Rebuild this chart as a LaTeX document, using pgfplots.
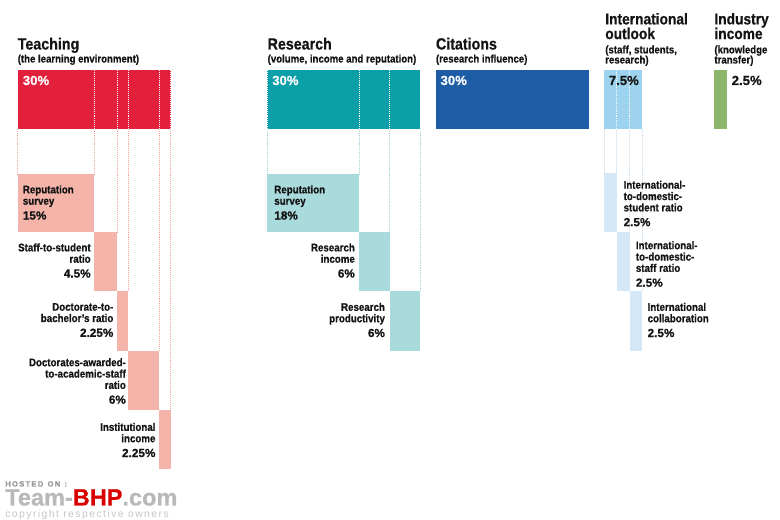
\documentclass[border=0pt]{standalone}
\usepackage{pgfplots}
\pgfplotsset{compat=1.18}
\usepackage{fontspec}
\setmainfont{Liberation Sans}[FakeStretch=0.88, BoldFeatures={FakeBold=0.6}]
\newfontfamily\wide{Liberation Sans}[BoldFeatures={FakeBold=0.6}]
\newfontfamily\wm{Liberation Sans}[LetterSpace=14]
\definecolor{tred}{HTML}{E2203C}
\definecolor{tpink}{HTML}{F4B4AA}
\definecolor{tline}{HTML}{F2A79E}
\definecolor{rteal}{HTML}{0BA0A8}
\definecolor{rlight}{HTML}{AADBDC}
\definecolor{rline}{HTML}{9FD3D6}
\definecolor{cblue}{HTML}{1D5DA6}
\definecolor{iblue}{HTML}{9DD3EE}
\definecolor{ilight}{HTML}{D5E8F7}
\definecolor{iline}{HTML}{C5DDEE}
\definecolor{igreen}{HTML}{8CB66A}
\definecolor{ink}{HTML}{141414}
% rectangle: x-from x-to (cumulative %), y-top y-bottom (px rows), colour
\newcommand{\rect}[5]{\addplot[draw=none,fill=#5] coordinates {(#1,#3) (#2,#3) (#2,#4) (#1,#4)};}
\newcommand{\vdot}[4]{\addplot[#4,line width=0.55pt,dash pattern=on 0.6pt off 0.8pt] coordinates {(#1,#2) (#1,#3)};}
\newcommand{\ttl}{\fontsize{11.7}{11.7}\selectfont\bfseries}
\newcommand{\ttlm}{\fontsize{11.3}{10.6}\selectfont\bfseries\lineskiplimit=-20pt}
\newcommand{\sub}{\fontsize{7.9}{7.9}\selectfont\bfseries}
\newcommand{\subm}{\fontsize{7.9}{7.3}\selectfont\bfseries\lineskiplimit=-20pt}
\newcommand{\lab}{\fontsize{8}{8.2}\selectfont\bfseries}
\newcommand{\pc}[1]{{\wide\fontsize{8.5}{8.5}\selectfont\bfseries #1}}
\begin{document}
\begin{tikzpicture}
\begin{axis}[
  scale only axis, width=7.8in, height=5.2in,
  xmin=-3.4314, xmax=149.51, ymin=0, ymax=520, y dir=reverse,
  hide axis, clip=false]
\fill[white] (axis cs:-3.4314,0) rectangle (axis cs:149.51,520);
% ---- top bars (weights in %) ----
\rect{0}{30}{70}{129}{tred}
\rect{49}{79}{70}{129}{rteal}
\rect{82}{112}{70}{129}{cblue}
\rect{115}{122.5}{70}{129}{iblue}
\rect{136.6}{139.1}{70}{129}{igreen}
% ---- teaching components: 15, 4.5, 2.25, 6, 2.25 ----
\rect{0}{15}{174}{232}{tpink}
\rect{15}{19.5}{232}{291}{tpink}
\rect{19.5}{21.75}{291}{351}{tpink}
\rect{21.75}{27.75}{351}{410}{tpink}
\rect{27.75}{30}{410}{469}{tpink}
% ---- research components: 18, 6, 6 ----
\rect{49}{67}{174}{232}{rlight}
\rect{67}{73}{232}{291}{rlight}
\rect{73}{79}{291}{351}{rlight}
% ---- international components: 2.5, 2.5, 2.5 ----
\rect{115}{117.5}{173}{232}{ilight}
\rect{117.5}{120}{232}{291.5}{ilight}
\rect{120}{122.5}{291.5}{351}{ilight}
% ---- dotted guides inside top bars ----
\vdot{0}{70}{129}{white}
\vdot{15}{70}{129}{white}
\vdot{19.5}{70}{129}{white}
\vdot{21.75}{70}{129}{white}
\vdot{27.75}{70}{129}{white}
\vdot{30}{70}{129}{white}
\vdot{49}{70}{129}{white}
\vdot{67}{70}{129}{white}
\vdot{73}{70}{129}{white}
\vdot{79}{70}{129}{white}
\vdot{117.5}{70}{129}{white}
\vdot{120}{70}{129}{white}
% ---- dotted guides below ----
\vdot{0}{129}{174}{tline}
\vdot{15}{129}{174}{tline}
\vdot{19.5}{129}{232}{tline}
\vdot{21.75}{129}{291}{tline}
\vdot{27.75}{129}{351}{tline}
\vdot{30}{129}{410}{tline}
\vdot{49}{129}{174}{rline}
\vdot{67}{129}{174}{rline}
\vdot{73}{129}{232}{rline}
\vdot{79}{129}{291}{rline}
\vdot{115}{129}{173}{iline}
\vdot{117.5}{129}{173}{iline}
\vdot{120}{129}{232}{iline}
\vdot{122.5}{129}{291.5}{iline}
% ---- titles ----
\node[anchor=base west,inner sep=0,text=ink,font=\ttl] at (axis cs:0,49.5) {Teaching};
\node[anchor=base west,inner sep=0,text=ink,font=\sub] at (axis cs:0,62.5) {(the learning environment)};
\node[anchor=base west,inner sep=0,text=ink,font=\ttl] at (axis cs:49,49.5) {Research};
\node[anchor=base west,inner sep=0,text=ink,font=\sub] at (axis cs:49,62.5) {(volume, income and reputation)};
\node[anchor=base west,inner sep=0,text=ink,font=\ttl] at (axis cs:82,49.5) {Citations};
\node[anchor=base west,inner sep=0,text=ink,font=\sub] at (axis cs:82,62.5) {(research influence)};
\node[anchor=north west,inner sep=0,align=left,text=ink,font=\ttlm] at (axis cs:115.2,12.8) {International\\outlook};
\node[anchor=north west,inner sep=0,align=left,text=ink,font=\subm] at (axis cs:115.2,45.2) {(staff, students,\\research)};
\node[anchor=north west,inner sep=0,align=left,text=ink,font=\ttlm] at (axis cs:136.6,12.8) {Industry\\income};
\node[anchor=north west,inner sep=0,align=left,text=ink,font=\subm] at (axis cs:136.6,45.2) {(knowledge\\transfer)};
% ---- top bar values ----
\node[anchor=base west,inner sep=0,text=white] at (axis cs:1,85) {\pc{\fontsize{9.5}{9.5}\selectfont 30\%}};
\node[anchor=base west,inner sep=0,text=white] at (axis cs:49.9,85) {\pc{\fontsize{9.5}{9.5}\selectfont 30\%}};
\node[anchor=base west,inner sep=0,text=white] at (axis cs:82.9,85) {\pc{\fontsize{9.5}{9.5}\selectfont 30\%}};
\node[anchor=base west,inner sep=0,text=ink] at (axis cs:115.9,85) {\pc{\fontsize{9.5}{9.5}\selectfont 7.5\%}};
\node[anchor=base west,inner sep=0,text=ink] at (axis cs:140,85) {\pc{\fontsize{9.5}{9.5}\selectfont 2.5\%}};
% ---- component labels ----
\node[anchor=west,inner sep=0,align=left,text=ink,font=\lab] at (axis cs:1,202.5) {Reputation\\survey\\[2.5pt]\pc{15\%}};
\node[anchor=east,inner sep=0,align=right,text=ink,font=\lab] at (axis cs:14.4,260.5) {Staff-to-student\\ratio\\[2.5pt]\pc{4.5\%}};
\node[anchor=east,inner sep=0,align=right,text=ink,font=\lab] at (axis cs:18.85,320) {Doctorate-to-\\bachelor's ratio\\[2.5pt]\pc{2.25\%}};
\node[anchor=east,inner sep=0,align=right,text=ink,font=\lab] at (axis cs:21.3,381) {Doctorates-awarded-\\to-academic-staff\\ratio\\[2.5pt]\pc{6\%}};
\node[anchor=east,inner sep=0,align=right,text=ink,font=\lab] at (axis cs:27.1,440) {Institutional\\income\\[2.5pt]\pc{2.25\%}};
\node[anchor=west,inner sep=0,align=left,text=ink,font=\lab] at (axis cs:50.3,202.5) {Reputation\\survey\\[2.5pt]\pc{18\%}};
\node[anchor=east,inner sep=0,align=right,text=ink,font=\lab] at (axis cs:66.2,260.5) {Research\\income\\[2.5pt]\pc{6\%}};
\node[anchor=east,inner sep=0,align=right,text=ink,font=\lab] at (axis cs:72.1,320) {Research\\productivity\\[2.5pt]\pc{6\%}};
\node[anchor=west,inner sep=0,align=left,text=ink,font=\lab] at (axis cs:118.8,203.5) {International-\\to-domestic-\\student ratio\\[2.5pt]\pc{2.5\%}};
\node[anchor=west,inner sep=0,align=left,text=ink,font=\lab] at (axis cs:121.2,264) {International-\\to-domestic-\\staff ratio\\[2.5pt]\pc{2.5\%}};
\node[anchor=west,inner sep=0,align=left,text=ink,font=\lab] at (axis cs:123.5,320) {International\\collaboration\\[2.5pt]\pc{2.5\%}};
% ---- watermark ----
\node[anchor=base west,inner sep=0,text=gray!80,font=\wide\fontsize{5.5}{5.5}\selectfont\bfseries] at (axis cs:-2.45,486.5) {H\,O\,S\,T\,E\,D\; O\,N\; :};
\node[anchor=base west,inner sep=0,font=\wide\fontsize{17}{17}\selectfont\bfseries] at (axis cs:-2.45,505.5) {\textcolor{gray!55}{Team-}\textcolor{red!85!black}{BHP}\textcolor{gray!55}{.com}};
\node[anchor=base west,inner sep=0,text=gray!45,font=\wm\fontsize{7.5}{7.5}\selectfont] at (axis cs:-2.45,517.5) {copyright respective owners};
\end{axis}
\pgfresetboundingbox
\path (current axis.south west) rectangle (current axis.north east);
\end{tikzpicture}
\end{document}
